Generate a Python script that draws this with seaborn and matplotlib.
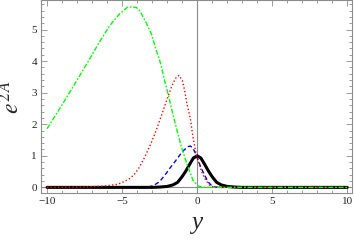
import matplotlib
matplotlib.use("Agg")
import matplotlib.pyplot as plt
import seaborn as sns
import pandas as pd
from matplotlib.ticker import MultipleLocator

# ---- data ----
green_x = [-10, -9.15, -8.71, -8.33, -7.87, -7.16, -6.49, -5.83, -5.16, -4.6, -4.05, -3.83,
           -3.38, -3.05, -2.72, -2.43, -2.16, -1.94, -1.72, -1.5, -1.05, -0.61, -0.28,
           0.05, 0.3, 0.6, 10]
green_y = [1.86, 2.5, 2.84, 3.14, 3.5, 4.07, 4.62, 5.12, 5.5, 5.72, 5.7, 5.6,
           5.2, 4.86, 4.34, 3.92, 3.36, 2.97, 2.52, 2.1, 1.28, 0.65, 0.23,
           0.05, 0.01, 0.0, 0.0]

red_x = [-10, -8, -7, -6.05, -5.38, -5.05, -4.76, -4.49, -4.2, -3.9, -3.5, -3.05, -2.72,
         -2.38, -2.16, -1.94, -1.72, -1.45, -1.21, -0.99, -0.83, -0.68, -0.45, -0.28,
         -0.05, 0.17, 0.39, 0.61, 0.83, 1.1, 10]
red_y = [0.0, 0.005, 0.02, 0.05, 0.09, 0.14, 0.21, 0.28, 0.4, 0.6, 0.95, 1.42, 1.82,
         2.27, 2.58, 2.88, 3.17, 3.45, 3.55, 3.39, 3.07, 2.65, 2.18, 1.6,
         1.02, 0.68, 0.4, 0.2, 0.07, 0.01, 0.0]

blue_x = [-10, -3.6, -3.2, -2.94, -2.5, -2.05, -1.83, -1.5, -1.16, -0.9, -0.61, -0.45,
          -0.3, -0.15, 0.05, 0.28, 0.5, 0.72, 0.94, 1.2, 1.5, 10]
blue_y = [0.0, 0.005, 0.02, 0.05, 0.18, 0.45, 0.6, 0.8, 1.02, 1.17, 1.29, 1.31,
          1.25, 1.12, 0.88, 0.6, 0.39, 0.18, 0.07, 0.01, 0.0, 0.0]

black_x = [-10, -3, -2.5, -2.0, -1.6, -1.3, -1.0, -0.75, -0.5, -0.25, 0,
           0.25, 0.5, 0.75, 1.0, 1.3, 1.6, 2.0, 2.5, 3, 10]
black_y = [0.0, 0.0, 0.01, 0.03, 0.08, 0.16, 0.34, 0.52, 0.73, 0.93, 1.0,
           0.93, 0.73, 0.52, 0.34, 0.16, 0.08, 0.03, 0.01, 0.0, 0.0]

x_ticks = [-10, -5, 0, 5, 10]
y_ticks = [0, 1, 2, 3, 4, 5]
x_label = "y"
y_label = r"$e^{2\,A}$"

# ---- styling ----
sns.set_style("ticks")
plt.rcParams['font.family'] = ['Liberation Serif', 'DejaVu Serif']
plt.rcParams['mathtext.fontset'] = 'stix'

fig = plt.figure(figsize=(3.54, 2.45), dpi=100)
ax = fig.add_axes([0.116, 0.212, 0.8775, 0.786])

frame_col = "#8c8c8c"
ax.axvline(0, color="#8a8a8a", lw=0.8, zorder=1)
ax.axhline(0, color="#8a8a8a", lw=0.8, zorder=1)

sns.lineplot(x=blue_x, y=blue_y, ax=ax, color="#0000ff", lw=1.0, sort=False,
             estimator=None, linestyle=(0, (3.2, 2.0)), zorder=3)
sns.lineplot(x=black_x, y=black_y, ax=ax, color="black", lw=2.2, sort=False,
             estimator=None, zorder=4)
sns.lineplot(x=red_x, y=red_y, ax=ax, color="#ff0000", lw=1.0, sort=False,
             estimator=None, linestyle=(0, (1.0, 1.6)), zorder=5)
sns.lineplot(x=green_x, y=green_y, ax=ax, color="#00ff00", lw=1.0, sort=False,
             estimator=None, linestyle=(0, (3.5, 1.3, 1.2, 1.3)), zorder=6)

ax.set_xlim(-10.4, 10.3)
ax.set_ylim(-0.18, 5.92)
ax.set_xticks(x_ticks)
ax.set_xticklabels(["\u221210", "\u22125", "0", "5", "10"])
ax.set_yticks(y_ticks)
ax.xaxis.set_minor_locator(MultipleLocator(1))
ax.yaxis.set_minor_locator(MultipleLocator(0.2))

for s in ax.spines.values():
    s.set_color(frame_col)
    s.set_linewidth(0.8)

ax.tick_params(which="both", direction="in", top=True, right=True,
               color=frame_col, width=0.6, labelsize=8, labelcolor="#222222")
ax.tick_params(which="major", length=4, pad=3)
ax.tick_params(which="minor", length=2)

ax.set_xlabel(x_label, fontsize=18, style="italic", labelpad=4)
ax.set_ylabel(y_label, fontsize=17, labelpad=5)

fig.savefig("out.png", dpi=100)
